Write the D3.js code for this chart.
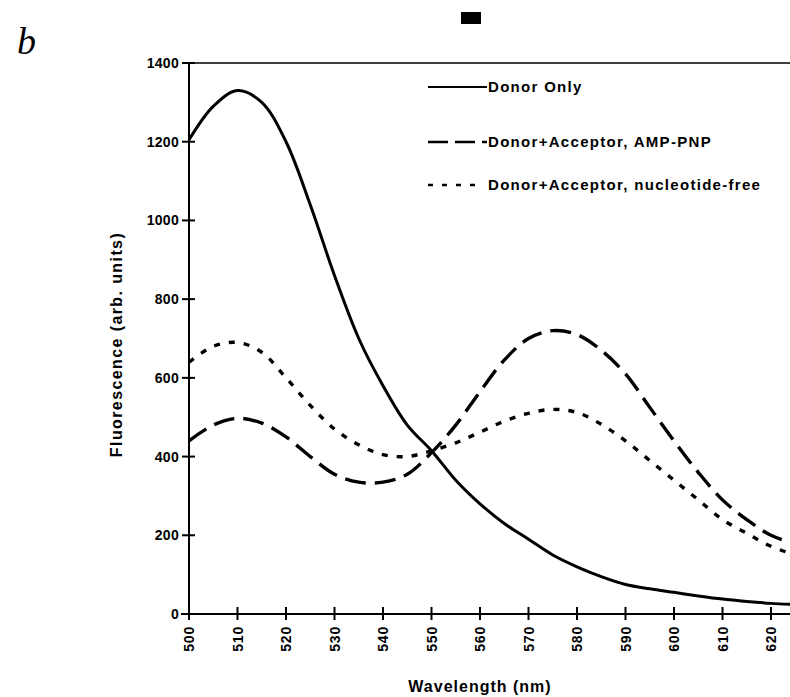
<!DOCTYPE html>
<html>
<head>
<meta charset="utf-8">
<script src="https://cdn.jsdelivr.net/npm/d3@7"></script>
<style>
  body { margin: 0; background: #fff; }
  svg { display: block; }
  text { font-family: "Liberation Sans", Arial, sans-serif; font-weight: bold; fill: #000; }
</style>
</head>
<body>
<div id="chart"></div>
<script>
// wavelength grid (nm)
var wavelengths = [500, 505, 510, 515, 520, 525, 530, 535, 540, 545, 550, 555, 560, 565, 570, 575, 580, 585, 590, 595, 600, 605, 610, 615, 620, 625];
var donorOnly   = [1205, 1290, 1330, 1300, 1200, 1040, 860, 700, 580, 480, 415, 340, 280, 230, 190, 150, 120, 95, 75, 64, 55, 46, 38, 32, 27, 24];
var ampPnp      = [440, 480, 497, 485, 450, 400, 355, 335, 335, 355, 410, 480, 565, 645, 700, 720, 710, 670, 610, 525, 440, 360, 290, 240, 200, 178];
var nucFree     = [640, 680, 690, 665, 600, 530, 470, 430, 405, 400, 415, 435, 462, 490, 510, 520, 512, 482, 440, 390, 340, 290, 240, 205, 172, 150];
var xTicks = [500, 510, 520, 530, 540, 550, 560, 570, 580, 590, 600, 610, 620];
var yTicks = [0, 200, 400, 600, 800, 1000, 1200, 1400];
var legendLabels = ["Donor Only", "Donor+Acceptor, AMP-PNP", "Donor+Acceptor, nucleotide-free"];

var width = 790, height = 697;

var svg = d3.select('#chart').append('svg')
  .attr('width', width)
  .attr('height', height);

// 500 nm sits at x=189, 620 nm at x=771
var x = d3.scaleLinear().domain([500, 620]).range([189, 771]);
var y = d3.scaleLinear().domain([0, 1400]).range([614, 63]);
var xEnd = x.invert(width);

// panel letter and title blob
svg.append('text')
  .attr('x', 17).attr('y', 54)
  .style('font-family', '"Liberation Serif", "Times New Roman", serif')
  .style('font-style', 'italic')
  .style('font-weight', 'normal')
  .style('font-size', '38px')
  .text('b');
svg.append('rect')
  .attr('x', 461).attr('y', 12).attr('width', 20).attr('height', 12)
  .attr('fill', '#000');

// top frame line
svg.append('line')
  .attr('x1', x(500)).attr('x2', width)
  .attr('y1', y(1400)).attr('y2', y(1400))
  .attr('stroke', '#000').attr('stroke-width', 1.6);

// y axis
var yAxis = svg.append('g').attr('transform', 'translate(' + x(500) + ',0)');
yAxis.append('line')
  .attr('y1', y(0)).attr('y2', y(1400))
  .attr('stroke', '#000').attr('stroke-width', 2);
yAxis.selectAll('.tk').data(yTicks).enter().append('line')
  .attr('x1', -7).attr('x2', 6)
  .attr('y1', function(d) { return y(d); })
  .attr('y2', function(d) { return y(d); })
  .attr('stroke', '#000').attr('stroke-width', 2);
yAxis.selectAll('text').data(yTicks).enter().append('text')
  .attr('x', -10)
  .attr('y', function(d) { return y(d) + 5; })
  .attr('text-anchor', 'end')
  .style('font-size', '14px')
  .style('letter-spacing', '0.3px')
  .text(function(d) { return d; });

// x axis
var xAxis = svg.append('g').attr('transform', 'translate(0,' + y(0) + ')');
xAxis.append('line')
  .attr('x1', x(500) - 8).attr('x2', width)
  .attr('stroke', '#000').attr('stroke-width', 2);
xAxis.selectAll('.tk').data(xTicks).enter().append('line')
  .attr('x1', function(d) { return x(d); })
  .attr('x2', function(d) { return x(d); })
  .attr('y1', -7).attr('y2', 6)
  .attr('stroke', '#000').attr('stroke-width', 2);
xAxis.selectAll('text').data(xTicks).enter().append('text')
  .attr('transform', function(d) { return 'translate(' + (x(d) + 5) + ',12) rotate(-90)'; })
  .attr('text-anchor', 'end')
  .style('font-size', '14px')
  .style('letter-spacing', '0.8px')
  .text(function(d) { return d; });

// axis titles
svg.append('text')
  .attr('transform', 'translate(122,' + ((y(0) + y(1400)) / 2 + 6) + ') rotate(-90)')
  .attr('text-anchor', 'middle')
  .style('font-size', '16px')
  .style('letter-spacing', '1.4px')
  .text('Fluorescence (arb. units)');
svg.append('text')
  .attr('x', 480).attr('y', 692)
  .attr('text-anchor', 'middle')
  .style('font-size', '16px')
  .style('letter-spacing', '1px')
  .text('Wavelength (nm)');

// curves
var series = [
  {values: donorOnly, dash: null, width: 3},
  {values: ampPnp, dash: '21,9', width: 3.4},
  {values: nucFree, dash: '6,9', width: 3.4}
];
var line = d3.line()
  .x(function(d) { return x(d[0]); })
  .y(function(d) { return y(d[1]); })
  .curve(d3.curveCatmullRom);

svg.append('defs').append('clipPath').attr('id', 'clip')
  .append('rect').attr('x', x(500)).attr('y', y(1400))
  .attr('width', x(xEnd) - x(500)).attr('height', y(0) - y(1400));

svg.append('g').attr('clip-path', 'url(#clip)')
  .selectAll('path').data(series).enter().append('path')
  .attr('d', function(s) { return line(d3.zip(wavelengths, s.values)); })
  .attr('fill', 'none')
  .attr('stroke', '#000')
  .attr('stroke-width', function(s) { return s.width; })
  .attr('stroke-dasharray', function(s) { return s.dash; });

// legend
var legendY = [87, 142, 185];
var lg = svg.append('g');
lg.selectAll('line').data(series).enter().append('line')
  .attr('x1', 428).attr('x2', function(s, i) { return i === 2 ? 484 : 487; })
  .attr('y1', function(s, i) { return legendY[i]; })
  .attr('y2', function(s, i) { return legendY[i]; })
  .attr('stroke', '#000')
  .attr('stroke-width', function(s, i) { return i === 0 ? 1.8 : 2.6; })
  .attr('stroke-dasharray', function(s, i) { return i === 1 ? '20,7' : (i === 2 ? '5,9' : null); });
lg.selectAll('text').data(legendLabels).enter().append('text')
  .attr('x', 488)
  .attr('y', function(d, i) { return legendY[i] + 5; })
  .style('font-size', '15px')
  .style('letter-spacing', '1.3px')
  .text(function(d) { return d; });
</script>
</body>
</html>
